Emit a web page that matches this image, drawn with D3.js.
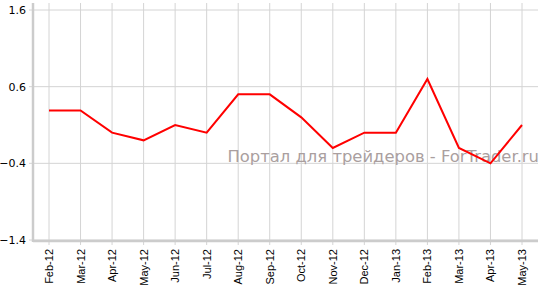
<!DOCTYPE html>
<html>
<head>
<meta charset="utf-8">
<script src="https://cdn.jsdelivr.net/npm/d3@7"></script>
<style>
  body { margin: 0; background: #fff; }
  svg { display: block; }
</style>
</head>
<body>
<div class="chart"></div>
<script>
const months = ["Feb-12", "Mar-12", "Apr-12", "May-12", "Jun-12", "Jul-12", "Aug-12", "Sep-12",
    "Oct-12", "Nov-12", "Dec-12", "Jan-13", "Feb-13", "Mar-13", "Apr-13", "May-13"]
const values = [0.29, 0.29, 0.0, -0.1, 0.1, 0.0, 0.5, 0.5, 0.2, -0.2, 0.0, 0.0, 0.7, -0.2, -0.4, 0.1]
const yTicks = [-1.4, -0.4, 0.6, 1.6]
const watermark = "Портал для трейдеров - ForTrader.ru"

const width = 545,
    height = 292

const svg = d3.select(".chart")
    .append("svg")
    .attr("width", width)
    .attr("height", height)

const x = d3.scalePoint()
    .domain(months)
    .range([49, 522])

const y = d3.scaleLinear()
    .domain([-1.4, 1.6])
    .range([240, 10])

const plotLeft = 33, plotRight = 538, plotTop = 3, plotBottom = 241

// grid
svg.append("g")
    .selectAll("line")
    .data(months)
    .join("line")
    .attr("x1", d => x(d)).attr("x2", d => x(d))
    .attr("y1", plotTop).attr("y2", plotBottom + 4)
    .attr("stroke", "#d4d4d4")

svg.append("g")
    .selectAll("line")
    .data(yTicks)
    .join("line")
    .attr("x1", plotLeft - 4).attr("x2", plotRight)
    .attr("y1", d => y(d)).attr("y2", d => y(d))
    .attr("stroke", "#d4d4d4")

// axis lines
svg.append("line")
    .attr("x1", plotLeft).attr("x2", plotLeft)
    .attr("y1", plotTop).attr("y2", plotBottom + 1)
    .attr("stroke", "#cccccc")
    .attr("stroke-width", 2.5)

svg.append("line")
    .attr("x1", plotLeft).attr("x2", plotRight)
    .attr("y1", plotBottom).attr("y2", plotBottom)
    .attr("stroke", "#cccccc")
    .attr("stroke-width", 2.5)

// y labels
svg.append("g")
    .selectAll("text")
    .data(yTicks)
    .join("text")
    .attr("x", 26)
    .attr("y", d => y(d))
    .attr("dy", "0.35em")
    .attr("text-anchor", "end")
    .style("font", "11px Verdana, 'DejaVu Sans', sans-serif")
    .style("fill", "#000")
    .text(d => d3.format(".1f")(d))

// x labels
svg.append("g")
    .selectAll("text")
    .data(months)
    .join("text")
    .attr("transform", d => `translate(${x(d) + 4},249) rotate(-90)`)
    .attr("text-anchor", "end")
    .style("font", "11px Arial, 'Liberation Sans', sans-serif")
    .style("fill", "#000")
    .text(d => d)

// watermark
svg.append("text")
    .attr("x", 539)
    .attr("y", 162)
    .attr("text-anchor", "end")
    .style("font", "16.4px Verdana, 'DejaVu Sans', sans-serif")
    .style("fill", "#aa9f9f")
    .text(watermark)

// line
const line = d3.line()
    .x((d, i) => x(months[i]))
    .y(d => y(d))

svg.append("path")
    .datum(values)
    .attr("d", line)
    .attr("fill", "none")
    .attr("stroke", "#ff0000")
    .attr("stroke-width", 2)
</script>
</body>
</html>
